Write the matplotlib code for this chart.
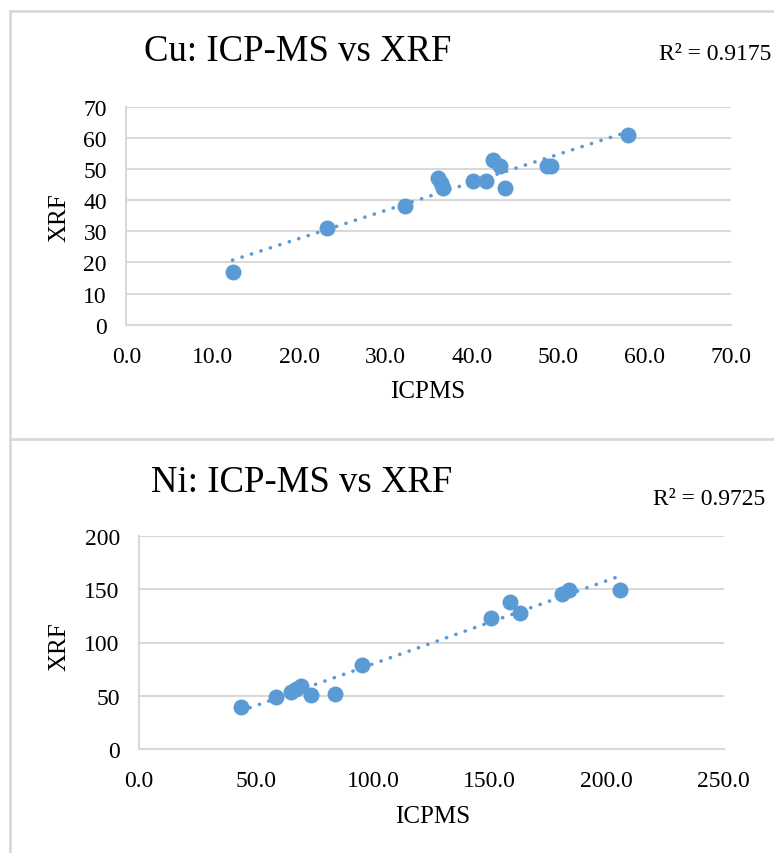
import numpy as np
import matplotlib
matplotlib.use("Agg")
import matplotlib.pyplot as plt
from matplotlib.lines import Line2D

# Cu: ICP-MS vs XRF
cu_icpms = [12.3, 23.2, 32.3, 36.1, 36.5, 36.7, 40.2, 41.7, 42.5, 43.3, 43.9, 48.7, 49.2, 58.1]
cu_xrf = [17.0, 31.0, 38.0, 47.0, 45.5, 44.0, 46.0, 46.0, 53.0, 51.0, 44.0, 51.0, 51.0, 61.0]
cu_r2 = "R² = 0.9175"
cu_xticks = [0, 10, 20, 30, 40, 50, 60, 70]
cu_yticks = [0, 10, 20, 30, 40, 50, 60, 70]

# Ni: ICP-MS vs XRF
ni_icpms = [43.4, 58.5, 64.9, 67.0, 69.4, 73.6, 83.8, 95.3, 150.3, 158.7, 163.0, 181.0, 183.7, 205.5]
ni_xrf = [40.0, 49.0, 54.0, 56.0, 59.5, 51.0, 52.0, 79.0, 122.5, 138.0, 128.0, 145.5, 149.5, 149.5]
ni_r2 = "R² = 0.9725"
ni_xticks = [0, 50, 100, 150, 200, 250]
ni_yticks = [0, 50, 100, 150, 200]

W, H = 774, 854
BLUE = "#5B9BD5"
GRID = "#d9d9d9"
BORDER = "#d9d9d9"
TXT = "#000000"
FONT = "Liberation Serif"

plt.rcParams["font.family"] = [FONT, "DejaVu Serif"]

fig = plt.figure(figsize=(W / 100, H / 100), dpi=100)


def fx(px):
    return px / W


def fy(py):
    return 1 - py / H


def rect(l, t, r, b):
    return [fx(l), fy(b), fx(r) - fx(l), fy(t) - fy(b)]


def scatter_panel(ax, x, y, xticks, yticks):
    x = np.asarray(x)
    y = np.asarray(y)
    ax.set_xlim(xticks[0], xticks[-1])
    ax.set_ylim(yticks[0], yticks[-1])
    ax.set_xticks(xticks)
    ax.set_yticks(yticks)
    ax.set_xticklabels([f"{v:.1f}" for v in xticks])
    ax.set_yticklabels([f"{v:d}" for v in yticks])
    ax.tick_params(axis="both", length=0, labelsize=17, colors=TXT)
    ax.tick_params(axis="y", pad=14)
    ax.tick_params(axis="x", pad=15)
    for s in ["top", "right"]:
        ax.spines[s].set_visible(False)
    for s in ["left", "bottom"]:
        ax.spines[s].set_color(GRID)
        ax.spines[s].set_linewidth(1.5)
    ax.grid(axis="y", color=GRID, linewidth=1.5)
    ax.set_axisbelow(True)

    # linear trend line over the data range
    k, b = np.polyfit(x, y, 1)
    xs = np.array([x.min(), x.max()])
    ax.plot(xs, k * xs + b, color=BLUE, linewidth=2.6,
            linestyle=(0, (0.05, 2.7)), dash_capstyle="round", zorder=2)
    ax.plot(x, y, "o", color=BLUE, markersize=11.5, markeredgewidth=0, zorder=3,
            clip_on=False)


# top chart (Cu)
ax1 = fig.add_axes(rect(126.4, 107.7, 730.5, 325.7))
scatter_panel(ax1, cu_icpms, cu_xrf, cu_xticks, cu_yticks)
fig.text(fx(298), fy(52), "Cu: ICP-MS vs XRF", fontsize=26.5, ha="center", va="center")
fig.text(fx(715), fy(55), cu_r2, fontsize=17, ha="center", va="center")
fig.text(fx(59), fy(218), "XRF", fontsize=18, rotation=90, ha="center", va="center")
fig.text(fx(428), fy(392), "ICPMS", fontsize=18, ha="center", va="center")

# bottom chart (Ni)
ax2 = fig.add_axes(rect(139.2, 536.7, 723.6, 750.3))
scatter_panel(ax2, ni_icpms, ni_xrf, ni_xticks, ni_yticks)
fig.text(fx(302), fy(483), "Ni: ICP-MS vs XRF", fontsize=26.5, ha="center", va="center")
fig.text(fx(709), fy(500), ni_r2, fontsize=17, ha="center", va="center")
fig.text(fx(59), fy(647), "XRF", fontsize=18, rotation=90, ha="center", va="center")
fig.text(fx(433), fy(817), "ICPMS", fontsize=18, ha="center", va="center")

# panel borders
for xs, ys in [((10, 10), (12, H)), ((10, W), (12, 12)), ((10, W), (439.5, 439.5))]:
    fig.add_artist(Line2D([fx(v) for v in xs], [fy(v) for v in ys],
                          color=BORDER, linewidth=2.0, transform=fig.transFigure))

fig.savefig("out.png", dpi=100)
